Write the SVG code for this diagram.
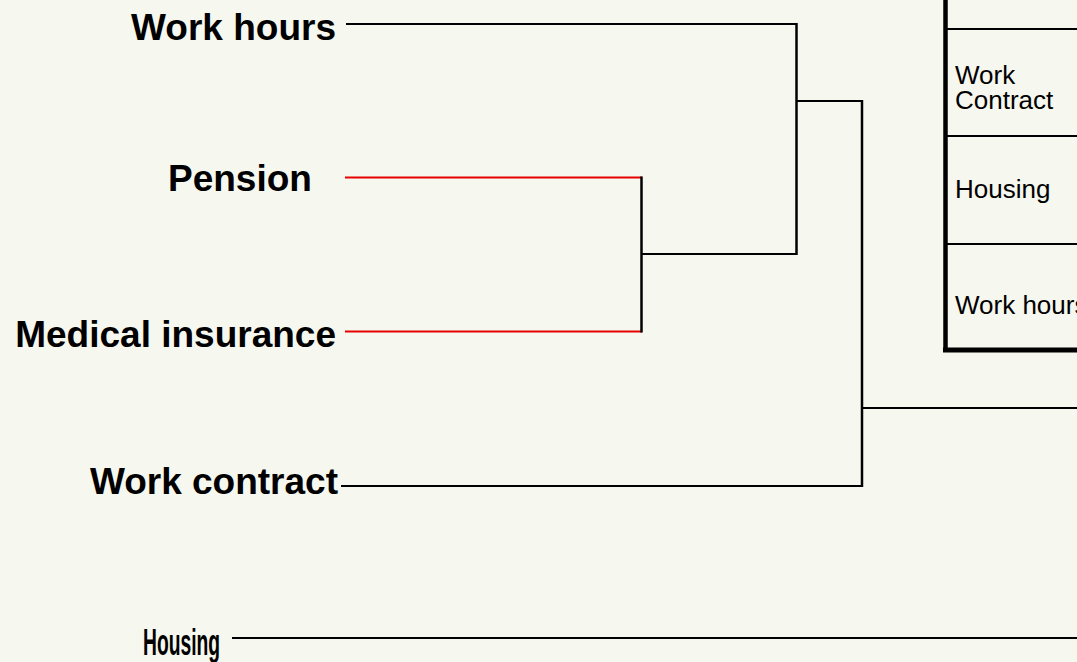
<svg xmlns="http://www.w3.org/2000/svg" width="1077" height="662" viewBox="0 0 1077 662">
<style>
.lbl{font-family:"Liberation Sans",Arial,sans-serif;font-weight:bold;font-size:37px;fill:#000}
.cell{font-family:"Liberation Sans",Arial,sans-serif;font-size:26px;fill:#000}
.k{stroke:#000;stroke-width:2;fill:none}
.v{stroke:#000;stroke-width:2.5;fill:none}
.r{stroke:#e80000;stroke-width:2;fill:none}
</style>
<rect width="1077" height="662" fill="#f6f7ee"/>
<g id="legend-table">
<line x1="945.5" y1="0" x2="945.5" y2="352" stroke="#000" stroke-width="4.5"/>
<line x1="943" y1="350" x2="1077" y2="350" stroke="#000" stroke-width="5"/>
<line x1="947" y1="29" x2="1077" y2="29" stroke="#000" stroke-width="2"/>
<line x1="947" y1="136" x2="1077" y2="136" stroke="#000" stroke-width="2"/>
<line x1="947" y1="244" x2="1077" y2="244" stroke="#000" stroke-width="2"/>
<text class="cell" x="955" y="84">Work</text>
<text class="cell" x="955" y="109">Contract</text>
<text class="cell" x="955" y="198">Housing</text>
<text class="cell" x="955" y="314">Work hours</text>
</g>
<g id="node-work-hours"><text class="lbl" x="336" y="40" text-anchor="end">Work hours</text></g>
<g id="node-pension"><text class="lbl" x="168" y="191">Pension</text></g>
<g id="node-medical-insurance"><text class="lbl" x="336" y="347" text-anchor="end">Medical insurance</text></g>
<g id="node-work-contract"><text class="lbl" x="338" y="494" text-anchor="end">Work contract</text></g>
<g id="node-housing"><text class="lbl" x="143" y="655" textLength="77" lengthAdjust="spacingAndGlyphs">Housing</text></g>
<g id="connectors">
<line class="r" x1="345" y1="177.5" x2="642" y2="177.5"/>
<line class="r" x1="345" y1="331.5" x2="642" y2="331.5"/>
<line class="v" x1="641.5" y1="176.5" x2="641.5" y2="332.5"/>
<line class="k" x1="641.5" y1="254" x2="797" y2="254"/>
<line class="k" x1="346" y1="24" x2="797" y2="24"/>
<line class="v" x1="796.5" y1="23" x2="796.5" y2="255"/>
<line class="k" x1="796.5" y1="101" x2="862" y2="101"/>
<line class="v" x1="862" y1="100" x2="862" y2="487"/>
<line class="k" x1="341" y1="486" x2="863" y2="486"/>
<line class="k" x1="862" y1="408" x2="1077" y2="408"/>
<line class="k" x1="232" y1="638" x2="1077" y2="638"/>
</g>
</svg>
